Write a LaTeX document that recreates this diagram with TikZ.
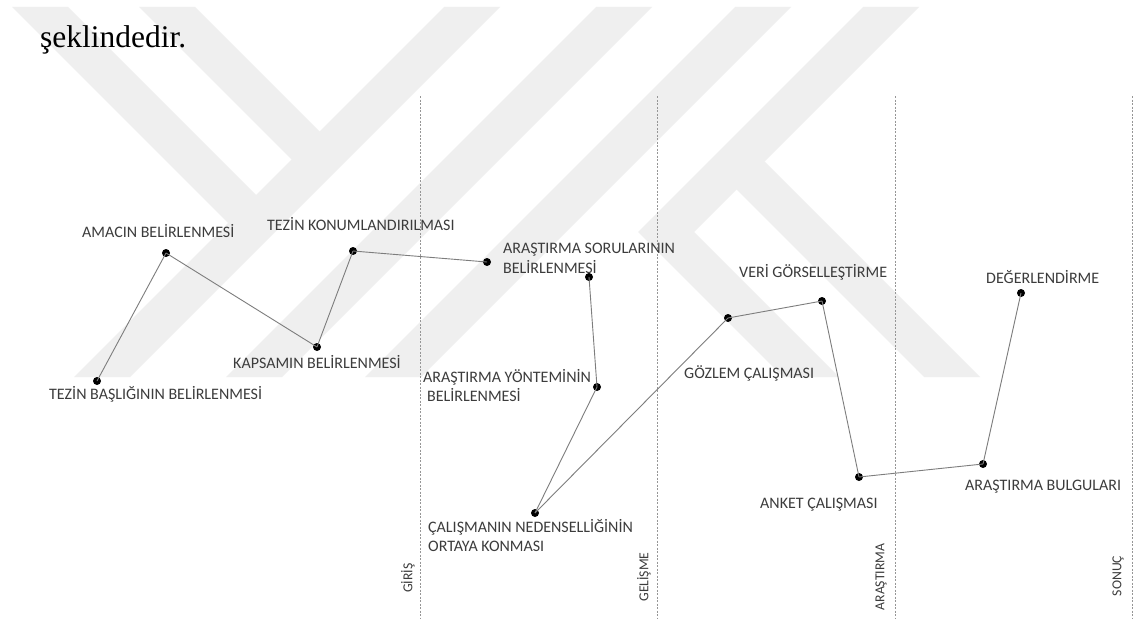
\documentclass[tikz,border=0pt]{standalone}
\usepackage{fontspec}
\setmainfont{Carlito}
\newfontfamily\seriffont{Liberation Serif}
\definecolor{txt}{RGB}{60,60,60}
\definecolor{conn}{RGB}{125,125,125}
\definecolor{sep}{RGB}{150,150,150}
\definecolor{wm}{RGB}{239,239,239}
\tikzset{
  dot/.style={circle,fill=black,inner sep=0pt,minimum size=8pt},
  lbl/.style={anchor=base west,inner sep=0pt,text=txt,font=\fontsize{16}{19}\selectfont},
  phase/.style={rotate=90,anchor=center,inner sep=0pt,text=txt,font=\fontsize{13.7}{16}\selectfont},
  link/.style={draw=conn,line width=0.9pt},
  sepline/.style={draw=sep,line width=0.7pt,dash pattern=on 2pt off 1.5pt},
  band/.style={fill=wm,draw=none}
}
\begin{document}
\begin{tikzpicture}[x=1pt,y=-1pt]
\useasboundingbox (0,0) rectangle (1137,618);
\fill[white] (0,0) rectangle (1137,618);

% faint watermark bands
\fill[band] (12,7) -- (68,7) -- (270,209) -- (242,237) -- cycle;
\fill[band] (139,7) -- (195,7) -- (333.5,145.5) -- (305.5,173.5) -- cycle;
\fill[band] (444,7) -- (500,7) -- (130,377) -- (74,377) -- cycle;
\fill[band] (596,7) -- (652,7) -- (282,377) -- (226,377) -- cycle;
\fill[band] (735,7) -- (791,7) -- (421,377) -- (365,377) -- cycle;
\fill[band] (863,7) -- (919,7) -- (694,232) -- (839,377) -- (783,377) -- (638,232) -- cycle;
\fill[band] (708.5,161.5) -- (764.5,161.5) -- (980,377) -- (924,377) -- cycle;

% intro text
\node[anchor=base west,inner sep=0pt,font=\seriffont\fontsize{31.5}{36}\selectfont] (intro) at (40,48) {şeklindedir.};

% phase separators
\coordinate (s1t) at (420,96); \coordinate (s1b) at (420,618);
\coordinate (s2t) at (657,96); \coordinate (s2b) at (657,618);
\coordinate (s3t) at (895,96); \coordinate (s3b) at (895,618);
\coordinate (s4t) at (1132,96); \coordinate (s4b) at (1132,618);
\draw[sepline] (s1t) -- (s1b);
\draw[sepline] (s2t) -- (s2b);
\draw[sepline] (s3t) -- (s3b);
\draw[sepline] (s4t) -- (s4b);

\node[phase] (p1) at (408,578) {GİRİŞ};
\node[phase] (p2) at (644,577) {GELİŞME};
\node[phase] (p3) at (881,577) {ARAŞTIRMA};
\node[phase] (p4) at (1118,576) {SONUÇ};

% points
\node[dot] (baslik) at (97,381) {};
\node[dot] (amac) at (166,253) {};
\node[dot] (kapsam) at (317,347) {};
\node[dot] (konum) at (353,251) {};
\node[dot] (soru1) at (487,262) {};
\node[dot] (soru2) at (589,277) {};
\node[dot] (yontem) at (597,387) {};
\node[dot] (neden) at (535,513) {};
\node[dot] (gozlem) at (728,318) {};
\node[dot] (veri) at (822,301) {};
\node[dot] (anket) at (859,477) {};
\node[dot] (bulgu) at (983,464) {};
\node[dot] (deger) at (1021,293) {};

% connectors
\draw[link] (baslik.center) -- (amac.center);
\draw[link] (amac.center) -- (kapsam.center);
\draw[link] (kapsam.center) -- (konum.center);
\draw[link] (konum.center) -- (soru1.center);
\draw[link] (soru2.center) -- (yontem.center);
\draw[link] (yontem.center) -- (neden.center);
\draw[link] (neden.center) -- (gozlem.center);
\draw[link] (gozlem.center) -- (veri.center);
\draw[link] (veri.center) -- (anket.center);
\draw[link] (anket.center) -- (bulgu.center);
\draw[link] (bulgu.center) -- (deger.center);

% labels
\node[lbl] (tamac) at (82,237) {AMACIN BELİRLENMESİ};
\node[lbl] (tkonum) at (267,230) {TEZİN KONUMLANDIRILMASI};
\node[lbl] (tkapsam) at (233,368) {KAPSAMIN BELİRLENMESİ};
\node[lbl] (tbaslik) at (49,399) {TEZİN BAŞLIĞININ BELİRLENMESİ};
\node[lbl] (tsoru) at (503,253) {ARAŞTIRMA SORULARININ};
\node[lbl] (tsorub) at (503,273) {BELİRLENMESİ};
\node[lbl] (tyontem) at (423,382) {ARAŞTIRMA YÖNTEMİNİN};
\node[lbl] (tyontemb) at (427,401) {BELİRLENMESİ};
\node[lbl] (tneden) at (428,532) {ÇALIŞMANIN NEDENSELLİĞİNİN};
\node[lbl] (tnedenb) at (428,551) {ORTAYA KONMASI};
\node[lbl] (tgozlem) at (684,378) {GÖZLEM ÇALIŞMASI};
\node[lbl] (tveri) at (739,277) {VERİ GÖRSELLEŞTİRME};
\node[lbl] (tanket) at (760,508) {ANKET ÇALIŞMASI};
\node[lbl] (tbulgu) at (965,490) {ARAŞTIRMA BULGULARI};
\node[lbl] (tdeger) at (986,283) {DEĞERLENDİRME};
\end{tikzpicture}
\end{document}
